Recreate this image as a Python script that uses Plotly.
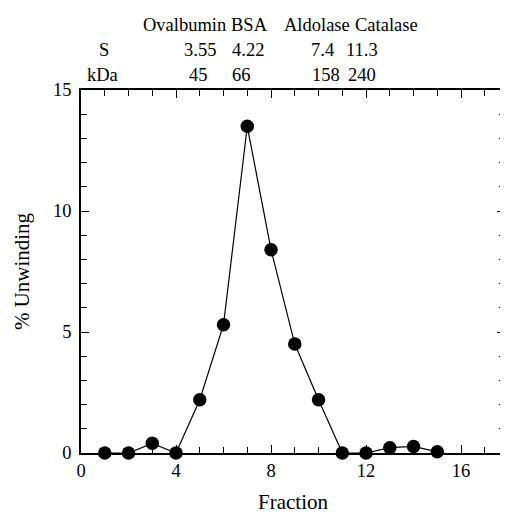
import plotly.graph_objects as go

fraction = [1, 2, 3, 4, 5, 6, 7, 8, 9, 10, 11, 12, 13, 14, 15]
unwinding = [0, 0, 0.4, 0, 2.2, 5.3, 13.5, 8.4, 4.5, 2.2, 0, 0, 0.22, 0.27, 0.05]

proteins = ["Ovalbumin", "BSA", "Aldolase", "Catalase"]
s_values = ["3.55", "4.22", "7.4", "11.3"]
kda_values = ["45", "66", "158", "240"]
row_labels = ["S", "kDa"]

x_ticks = [0, 4, 8, 12, 16]
y_ticks = [0, 5, 10, 15]
x_range = [0, 17.85]
y_range = [0, 15]

# positions (data x) for the header text
name_pos = [4.37, 7.1, 9.92, 12.86]
s_pos = [5.03, 7.03, 10.17, 11.85]
kda_pos = [4.96, 6.75, 10.32, 11.85]

FONT = "Liberation Serif"

fig = go.Figure()
fig.add_trace(go.Scatter(
    x=fraction, y=unwinding, mode="lines+markers",
    line=dict(color="black", width=1.2),
    marker=dict(color="black", size=13.5, symbol="circle"),
    cliponaxis=False, showlegend=False,
))
# invisible trace to materialise the mirrored (top/right) tick axes
fig.add_trace(go.Scatter(x=[fraction[0]], y=[unwinding[0]], xaxis="x2", yaxis="y2",
                         mode="markers", marker=dict(opacity=0), showlegend=False,
                         hoverinfo="skip"))

ann = []
for t, p in zip(proteins, name_pos):
    ann.append(dict(x=p, y=1.179, text=t))
for t, p in zip(s_values, s_pos):
    ann.append(dict(x=p, y=1.110, text=t))
for t, p in zip(kda_values, kda_pos):
    ann.append(dict(x=p, y=1.041, text=t))
ann.append(dict(x=0.97, y=1.110, text=row_labels[0]))
ann.append(dict(x=0.89, y=1.041, text=row_labels[1]))
for a in ann:
    a.update(xref="x", yref="paper", showarrow=False, xanchor="center",
             yanchor="middle", font=dict(family=FONT, size=18.5, color="black"))

axis_common = dict(
    showline=True, linecolor="black", linewidth=1.5,
    ticks="inside", ticklen=8, tickwidth=1.2, tickcolor="black",
    showgrid=False, zeroline=False, automargin=False,
    tickfont=dict(family=FONT, size=18.5, color="black"),
)
minor_common = dict(dtick=1, tick0=0, ticks="inside", ticklen=6, tickwidth=1.2,
                    tickcolor="black", showgrid=False)

# page body adds an 8px offset, so the figure is sized/margined to compensate
fig.update_layout(
    width=500, height=506,
    margin=dict(l=73, r=3, t=82, b=61),
    paper_bgcolor="white", plot_bgcolor="white",
    annotations=ann,
    xaxis=dict(range=x_range, tickvals=x_ticks, minor=minor_common,
               title=dict(text="Fraction", font=dict(family=FONT, size=21, color="black"), standoff=14),
               **axis_common),
    yaxis=dict(range=y_range, tickvals=y_ticks, minor=minor_common,
               title=dict(text="% Unwinding", font=dict(family=FONT, size=21, color="black"), standoff=18),
               ticklabelstandoff=4,
               **axis_common),
    xaxis2=dict(range=x_range, tickvals=x_ticks, minor=minor_common, overlaying="x",
                side="top", anchor="y", showticklabels=False, **axis_common),
    yaxis2=dict(range=y_range, tickvals=y_ticks, minor=minor_common, overlaying="y",
                side="right", anchor="x", showticklabels=False, **axis_common),
)

fig.write_html("out.html")
